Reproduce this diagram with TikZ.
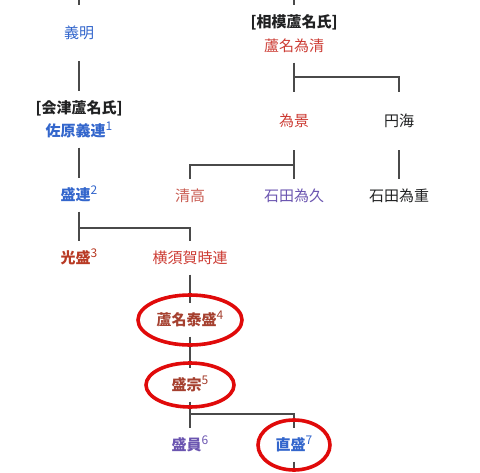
\documentclass[tikz,border=0pt]{standalone}
\usepackage{fontspec}
\setmainfont{Noto Sans CJK JP}
\usepackage{xcolor}
\usepackage{tikz}
\usetikzlibrary{positioning,calc}

\definecolor{linkblue}{HTML}{3366CC}
\definecolor{redlink}{HTML}{CC3B33}
\definecolor{paleredlink}{HTML}{C85A50}
\definecolor{darkred}{HTML}{B83A24}
\definecolor{brownred}{HTML}{A5402F}
\definecolor{visited}{HTML}{6B55B0}
\definecolor{plain}{HTML}{202122}
\definecolor{treegray}{HTML}{4A4A4A}
\definecolor{ringred}{HTML}{E00A0A}

\newcommand{\gen}[1]{\raisebox{0.45em}{\fontsize{12pt}{12pt}\selectfont\mdseries #1}}

\begin{document}
\begin{tikzpicture}[
    x=1pt, y=-1pt,
    font=\fontsize{15pt}{18pt}\selectfont,
    person/.style={inner xsep=1pt, inner ysep=0pt, minimum height=33pt,
                   text height=1.2em, text depth=0.05em, text=plain},
    clan/.style={person, font=\fontsize{15pt}{18pt}\selectfont\bfseries},
    tree/.style={draw=treegray, line width=1.2pt},
    ring/.style={draw=ringred, line width=3.6pt}
  ]
  \useasboundingbox (0,0) rectangle (480,472);

  % Aizu line (left column)
  \node[person, minimum height=56pt, text=linkblue] (yoshiaki) at (79,33) {義明};
  \node[clan]                        (aizu)      at (79,108) {[会津蘆名氏]};
  \node[person, text=linkblue, font=\fontsize{15pt}{18pt}\selectfont\bfseries]
                                     (sahara)    at (79,131) {佐原義連\gen{1}};
  \node[person, text=linkblue, font=\fontsize{15pt}{18pt}\selectfont\bfseries]
                                     (morotsura) at (79,195) {盛連\gen{2}};
  \node[person, text=darkred, font=\fontsize{15pt}{18pt}\selectfont\bfseries]
                                     (mitsumori) at (79,258) {光盛\gen{3}};
  \node[person, text=redlink]        (yokosuka)  at (190,258) {横須賀時連};
  \node[person, text=brownred, font=\fontsize{15pt}{18pt}\selectfont\bfseries]
                                     (yasumori)  at (190,320) {蘆名泰盛\gen{4}};
  \node[person, text=brownred, font=\fontsize{15pt}{18pt}\selectfont\bfseries]
                                     (morimune)  at (190,385) {盛宗\gen{5}};
  \node[person, text=visited, font=\fontsize{15pt}{18pt}\selectfont\bfseries]
                                     (morikazu)  at (190,445) {盛員\gen{6}};
  \node[person, text=linkblue, font=\fontsize{15pt}{18pt}\selectfont\bfseries]
                                     (naomori)   at (294,445) {直盛\gen{7}};

  % Sagami line (right columns)
  \node[clan]                        (sagami)    at (294,22) {[相模蘆名氏]};
  \node[person, text=redlink]        (tamekiyo)  at (294,46) {蘆名為清};
  \node[person, minimum height=58pt, text=redlink] (tamekage) at (294,121) {為景};
  \node[person, minimum height=58pt] (enkai)     at (399,121) {円海};
  \node[person, text=paleredlink]    (kiyotaka)  at (190,196) {清高};
  \node[person, text=visited]        (tamehisa)  at (294,196) {石田為久};
  \node[person]                      (tameshige) at (399,196) {石田為重};

  % free ends and branch points
  \coordinate (topA) at (79,0);
  \coordinate (topS) at (294,0);
  \coordinate (botN) at (294,472);
  \coordinate (forkMoro) at (79,228);
  \coordinate (forkKiyo) at (294,77);
  \coordinate (forkKage) at (294,165);
  \coordinate (forkMune) at (190,414);

  \draw[tree] (topA) -- (yoshiaki);
  \draw[tree] (yoshiaki) -- (aizu);
  \draw[tree] (sahara) -- (morotsura);
  \draw[tree] (morotsura) -- (forkMoro) -| (yokosuka);
  \draw[tree] (forkMoro) -- (mitsumori);
  \draw[tree] (yokosuka) -- (yasumori);
  \draw[tree] (yasumori) -- (morimune);
  \draw[tree] (morimune) -- (forkMune) -| (naomori);
  \draw[tree] (forkMune) -- (morikazu);
  \draw[tree] (naomori) -- (botN);

  \draw[tree] (topS) -- (sagami);
  \draw[tree] (tamekiyo) -- (forkKiyo) -| (enkai);
  \draw[tree] (forkKiyo) -- (tamekage);
  \draw[tree] (tamekage) -- (tamehisa);
  \draw[tree] (forkKage) -| (kiyotaka);
  \draw[tree] (enkai) -- (tameshige);

  % red rings
  \draw[ring] (yasumori.center) ellipse [x radius=52, y radius=25];
  \draw[ring] (morimune.center) ellipse [x radius=44, y radius=22];
  \draw[ring] (naomori.center)  ellipse [x radius=36, y radius=25];
\end{tikzpicture}
\end{document}
